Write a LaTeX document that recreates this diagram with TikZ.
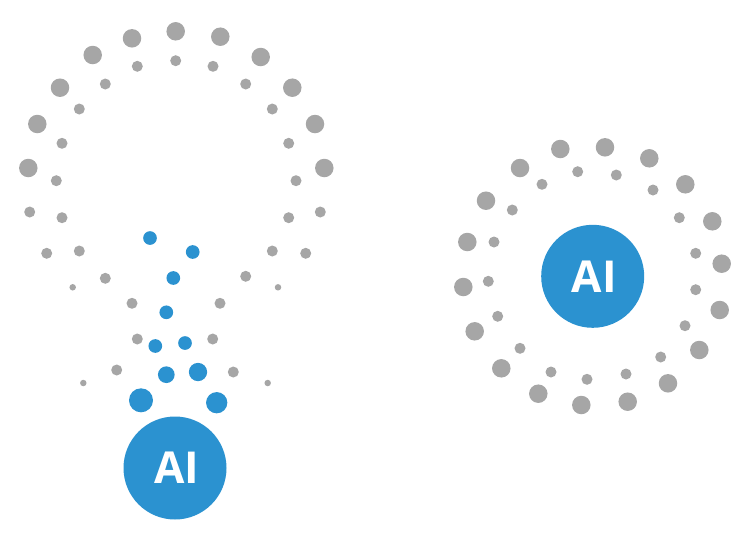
\documentclass[tikz,border=0pt]{standalone}
\usepackage{fontspec}
\setmainfont{Open Sans}
\definecolor{aiblue}{HTML}{2B92D0}
\definecolor{dotgray}{HTML}{A6A6A6}
\tikzset{%
	dot/.style={%
		circle,
		inner sep=0pt,
		draw=none
	},
	graybig/.style={dot, fill=dotgray, minimum size=18.5pt},
	graysmall/.style={dot, fill=dotgray, minimum size=11pt},
	graytiny/.style={dot, fill=dotgray, minimum size=6.5pt},
	bluedot/.style={dot, fill=aiblue},
	aicore/.style={%
		dot,
		fill=aiblue,
		minimum size=103pt,
		text=white,
		execute at begin node=\kern3pt,
		font=\fontsize{44}{44}\selectfont\bfseries
	}
}

\begin{document}
\begin{tikzpicture}[x=1pt, y=-1pt]
	\useasboundingbox (0,0) rectangle (750,542);
	% left figure
	\foreach \x/\y [count=\i] in {28.3/168, 37.3/124, 60/87.7, 92.7/55, 132/38.3, 175.7/31.3, 220.3/36.7, 260.7/57, 292.3/87.7, 315/124, 324.3/168}
		\node [graybig] (lbig\i) at (\x,\y) {};
	\foreach \x/\y [count=\i] in {56.3/180.7, 62/143.3, 79.3/109, 105.3/84, 137.3/66.3, 175.7/60.7, 213/66.3, 245.7/84, 272.3/109, 288.7/143.3, 296/180.7, 29.7/212, 62/217.7, 288.7/217.7, 320.3/212, 46.7/253.3, 79.3/251, 272.3/251, 305.7/253.3, 105.3/278.3, 245.7/276.3, 132/303.3, 220/303.3, 137.3/339, 212.7/339, 116.7/370, 233.3/372}
		\node [graysmall] (lsmall\i) at (\x,\y) {};
	\foreach \x/\y [count=\i] in {72.7/287.3, 278/287.3, 83.3/383, 267.7/383}
		\node [graytiny] (ltiny\i) at (\x,\y) {};
	\foreach \x/\y/\d [count=\i] in {150/238/13.7, 192.7/252/13.7, 173.3/278/13.7, 166.3/312.3/13.7, 155.3/346/13.7, 185/343/13.7, 166.3/374.7/16.7, 198/372/18.3, 141/400.3/24, 216.7/402.7/21.3}
		\node [bluedot, minimum size=\d pt] (lblue\i) at (\x,\y) {};
	\node [aicore] (lcore) at (175,468) {AI};
	% right figure
	\foreach \x/\y [count=\i] in {560.3/149, 605/147.3, 649.3/158.3, 685.3/184.3, 712.3/221.3, 721.7/263.7, 719.7/310, 699.3/350, 668/383.3, 627.7/401.7, 581.3/405, 538.3/393.7, 501.3/368.3, 474.7/331.3, 463.3/287, 467.3/242, 486/200.7, 520/168}
		\node [graybig] (rbig\i) at (\x,\y) {};
	\foreach \x/\y [count=\i] in {577.7/171.7, 616.3/175, 653/190, 679.3/217.7, 695.7/253.3, 695.7/289.7, 685/325.7, 660.7/357, 626/374, 587/379.3, 551/372, 520/348.3, 497.7/316.3, 488.3/281.3, 494/242, 512.3/210, 542/184.3}
		\node [graysmall] (rsmall\i) at (\x,\y) {};
	\node [aicore] (rcore) at (592.7,276.3) {AI};
\end{tikzpicture}
\end{document}
